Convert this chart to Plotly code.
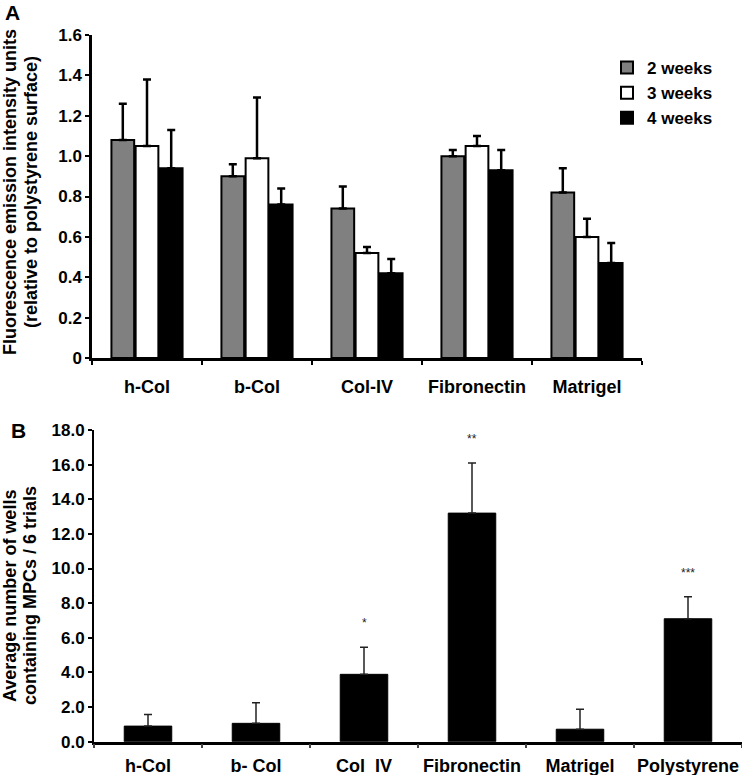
import plotly.graph_objects as go

W, H = 742, 775
FONT = "Liberation Sans, Arial, sans-serif"

# ---------- Panel A data ----------
cats_a = ["h-Col", "b-Col", "Col-IV", "Fibronectin", "Matrigel"]
series_names = ["2 weeks", "3 weeks", "4 weeks"]
wk2 = [1.08, 0.90, 0.74, 1.00, 0.82]
wk2_top = [1.26, 0.96, 0.85, 1.03, 0.94]
wk3 = [1.05, 0.99, 0.52, 1.05, 0.60]
wk3_top = [1.38, 1.29, 0.55, 1.10, 0.69]
wk4 = [0.94, 0.76, 0.42, 0.93, 0.47]
wk4_top = [1.13, 0.84, 0.49, 1.03, 0.57]
a_ticks = [0, 0.2, 0.4, 0.6, 0.8, 1.0, 1.2, 1.4, 1.6]
a_ticktext = ["0", "0.2", "0.4", "0.6", "0.8", "1.0", "1.2", "1.4", "1.6"]

# ---------- Panel B data ----------
cats_b = ["h-Col", "b- Col", "Col\u00a0\u00a0IV", "Fibronectin", "Matrigel", "Polystyrene"]
wells = [0.90, 1.06, 3.89, 13.2, 0.72, 7.1]
wells_top = [1.57, 2.25, 5.45, 16.1, 1.87, 8.37]
stars = ["", "", "*", "**", "", "***"]
b_ticks = [0, 2, 4, 6, 8, 10, 12, 14, 16, 18]
b_ticktext = ["0.0", "2.0", "4.0", "6.0", "8.0", "10.0", "12.0", "14.0", "16.0", "18.0"]


def px_x(p):
    return p / W


def px_y(p):
    return 1 - p / H


fig = go.Figure()

fills = ["#808080", "#ffffff", "#000000"]
vals = [wk2, wk3, wk4]
tops = [wk2_top, wk3_top, wk4_top]
for name, color, v, t in zip(series_names, fills, vals, tops):
    fig.add_trace(go.Bar(
        x=cats_a, y=v, name=name, legendgroup=name,
        marker=dict(color=color, line=dict(color="black", width=2)),
        error_y=dict(type="data", symmetric=False,
                     array=[tt - vv for tt, vv in zip(t, v)],
                     arrayminus=[0] * len(v),
                     color="black", thickness=2.5, width=4),
        xaxis="x", yaxis="y",
    ))

fig.add_trace(go.Bar(
    x=cats_b, y=wells, showlegend=False, width=0.44,
    marker=dict(color="black", line=dict(color="black", width=1)),
    error_y=dict(type="data", symmetric=False,
                 array=[t - v for t, v in zip(wells_top, wells)],
                 arrayminus=[0] * len(wells),
                 color="#222222", thickness=1.5, width=4),
    xaxis="x2", yaxis="y2",
))

for c, t, s in zip(cats_b, wells_top, stars):
    if s:
        fig.add_annotation(x=c, y=t, xref="x2", yref="y2", text=s,
                           showarrow=False, yshift=24,
                           font=dict(family=FONT, size=12, color="#222222"))

tick_font = dict(family="Liberation Sans", size=17, color="black", weight="bold")
cat_font = dict(family="Liberation Sans", size=18, color="black", weight="bold")

common = dict(automargin=False, showgrid=False, zeroline=False, fixedrange=True)

fig.update_layout(
    template="none",
    width=W, height=H,
    margin=dict(l=0, r=0, t=0, b=0, pad=0),
    paper_bgcolor="white", plot_bgcolor="white",
    barmode="group", bargap=0.34, bargroupgap=0.06,
    font=dict(family=FONT, color="black"),
    showlegend=True,
    legend=dict(x=px_x(607), y=px_y(50), xanchor="left", yanchor="top",
                font=dict(family="Liberation Sans", size=17, color="black", weight="bold"),
                traceorder="grouped", tracegroupgap=0,
                bgcolor="rgba(0,0,0,0)", itemwidth=30),
    xaxis=dict(domain=[px_x(92), px_x(642)], anchor="y", type="category",
               range=[-0.5, 4.5], showline=True, linecolor="black", linewidth=3,
               ticks="outside", tickson="boundaries", ticklen=4, tickwidth=2,
               tickcolor="black", tickfont=cat_font, ticklabelstandoff=10,
               tickangle=0, **common),
    yaxis=dict(domain=[px_y(358), px_y(35)], anchor="x", range=[0, 1.6],
               tickvals=a_ticks, ticktext=a_ticktext,
               showline=True, linecolor="black", linewidth=2.5,
               ticks="outside", ticklen=4, tickwidth=1.5, tickcolor="black",
               tickfont=tick_font, **common),
    xaxis2=dict(domain=[px_x(94), px_x(742)], anchor="y2", type="category",
                range=[-0.5, 5.5], showline=True, linecolor="black", linewidth=2.5,
                ticks="outside", tickson="boundaries", ticklen=4, tickwidth=1.5,
                tickcolor="#444444", tickfont=cat_font, ticklabelstandoff=6,
                tickangle=0, **common),
    yaxis2=dict(domain=[px_y(741.7), px_y(430)], anchor="x2", range=[0, 18],
                tickvals=b_ticks, ticktext=b_ticktext,
                showline=True, linecolor="black", linewidth=2,
                ticks="outside", ticklen=4, tickwidth=1.5, tickcolor="black",
                tickfont=tick_font, **common),
)

title_font = dict(family="Liberation Sans", size=18, color="black", weight="bold")
# Y titles
fig.add_annotation(x=px_x(10), y=px_y(192), xref="paper", yref="paper",
                   text="Fluorescence emission intensity units", textangle=-90,
                   showarrow=False, font=title_font, xanchor="center", yanchor="middle")
fig.add_annotation(x=px_x(31), y=px_y(192), xref="paper", yref="paper",
                   text="(relative to polystyrene surface)", textangle=-90,
                   showarrow=False, font=title_font, xanchor="center", yanchor="middle")
fig.add_annotation(x=px_x(10), y=px_y(596), xref="paper", yref="paper",
                   text="Average number of wells", textangle=-90,
                   showarrow=False, font=title_font, xanchor="center", yanchor="middle")
fig.add_annotation(x=px_x(30), y=px_y(596), xref="paper", yref="paper",
                   text="containing MPCs / 6 trials", textangle=-90,
                   showarrow=False, font=title_font, xanchor="center", yanchor="middle")
# Panel letters
letter_font = dict(family="Liberation Sans", size=21, color="black", weight="bold")
fig.add_annotation(x=px_x(3), y=px_y(12), xref="paper", yref="paper", text="A",
                   showarrow=False, font=letter_font, xanchor="left", yanchor="middle")
fig.add_annotation(x=px_x(9), y=px_y(430), xref="paper", yref="paper", text="B",
                   showarrow=False, font=letter_font, xanchor="left", yanchor="middle")

fig.write_html("out.html", config={"displayModeBar": False},
               post_script="document.body.style.margin='0';document.body.style.overflow='hidden';")
